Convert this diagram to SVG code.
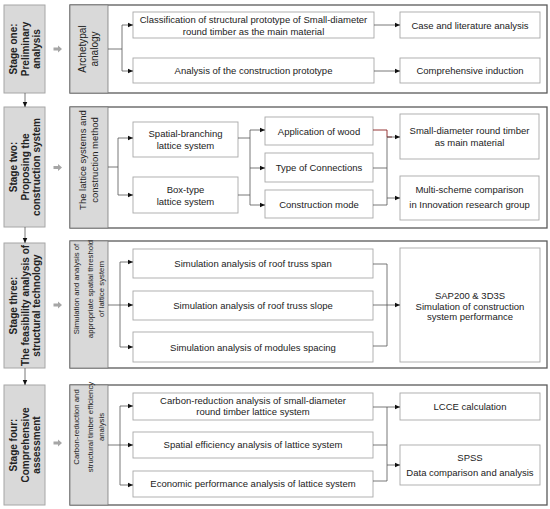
<svg xmlns="http://www.w3.org/2000/svg" width="550" height="509" viewBox="0 0 550 509">
<defs>
<style>
text{font-family:"Liberation Sans",Arial,sans-serif;font-size:9.5px;fill:#222;text-anchor:middle}
.st{font-weight:bold;font-size:10px;fill:#222}
.l1{font-size:10px}
.l3{font-size:7.8px}
.sbox{fill:#d9d9d9;stroke:#a6a6a6;stroke-width:1}
.panel{fill:#fff;stroke:#5a5a5a;stroke-width:1.3}
.lab{fill:#d9d9d9;stroke:#7a7a7a;stroke-width:0.8}
.box{fill:#fff;stroke:#a8a8a8;stroke-width:0.9}
.c{fill:none;stroke:#555;stroke-width:0.8}
.a{fill:none;stroke:#555;stroke-width:0.8}
.red{fill:none;stroke:#8b2020;stroke-width:0.9}
.barrow{fill:#a6a6a6}
</style>
<marker id="ah" markerUnits="userSpaceOnUse" markerWidth="7" markerHeight="7" refX="5.5" refY="3.5" orient="auto">
<path d="M0,1 L5.5,3.5 L0,6 z" fill="#111"/>
</marker>
<path id="ba" d="M0,-1.6 h4.5 v-2 l4,3.6 l-4,3.6 v-2 h-4.5 z"/>
</defs>

<!-- Stage boxes -->
<g id="stage1">
<rect class="sbox" x="4" y="5" width="41" height="88"/>
<g transform="translate(25,49) rotate(-90)">
<text class="st" x="0" y="-8">Stage one:</text>
<text class="st" x="0" y="3.5">Preliminary</text>
<text class="st" x="0" y="15">analysis</text>
</g>
</g>
<g id="stage2">
<rect class="sbox" x="4" y="107" width="41" height="120"/>
<g transform="translate(25,167) rotate(-90)">
<text class="st" x="0" y="-8">Stage two:</text>
<text class="st" x="0" y="3.5">Proposing the</text>
<text class="st" x="0" y="15">construction system</text>
</g>
</g>
<g id="stage3">
<rect class="sbox" x="4" y="243" width="41" height="125"/>
<g transform="translate(25,305.5) rotate(-90)">
<text class="st" x="0" y="-8">Stage three:</text>
<text class="st" x="0" y="3.5">The feasibility analysis of</text>
<text class="st" x="0" y="15">structural technology</text>
</g>
</g>
<g id="stage4">
<rect class="sbox" x="4" y="385" width="41" height="120"/>
<g transform="translate(25,445) rotate(-90)">
<text class="st" x="0" y="-8">Stage four:</text>
<text class="st" x="0" y="3.5">Comprehensive</text>
<text class="st" x="0" y="15">assessment</text>
</g>
</g>

<!-- Panels -->
<g id="panel1">
<rect class="panel" x="70" y="5" width="477" height="88"/>
<rect class="lab" x="70" y="5" width="38" height="88"/>
<g transform="translate(89,49) rotate(-90)">
<text class="l1" x="0" y="-3">Archetypal</text>
<text class="l1" x="0" y="9">analogy</text>
</g>
</g>
<g id="panel2">
<rect class="panel" x="70" y="107" width="477" height="121"/>
<rect class="lab" x="70" y="107" width="38" height="121"/>
<g transform="translate(89,160) rotate(-90)">
<text x="0" y="-3">The lattice systems and</text>
<text x="0" y="9">construction method</text>
</g>
</g>
<g id="panel3">
<rect class="panel" x="70" y="241" width="477" height="127"/>
<rect class="lab" x="70" y="241" width="38" height="127"/>
<g transform="translate(89,289) rotate(-90)">
<text class="l3" x="0" y="-10">Simulation and analysis of</text>
<text class="l3" x="0" y="3.5">appropriate spatial threshold</text>
<text class="l3" x="0" y="15">of lattice system</text>
</g>
</g>
<g id="panel4">
<rect class="panel" x="70" y="385" width="477" height="120"/>
<rect class="lab" x="70" y="385" width="38" height="120"/>
<g transform="translate(89,427) rotate(-90)">
<text class="l3" x="0" y="-10">Carbon-reduction and</text>
<text class="l3" x="0" y="3.5">structural timber efficiency</text>
<text class="l3" x="0" y="15">analysis</text>
</g>
</g>

<!-- Panel 1 nodes -->
<g id="n-classification">
<rect class="box" x="133" y="12" width="241" height="26"/>
<text x="253.5" y="22.5">Classification of structural prototype of Small-diameter</text>
<text x="253.5" y="34.5">round timber as the main material</text>
</g>
<g id="n-analysis-proto">
<rect class="box" x="133" y="58" width="241" height="25"/>
<text x="253.5" y="74">Analysis of the construction prototype</text>
</g>
<g id="n-case">
<rect class="box" x="400" y="12" width="140" height="26"/>
<text x="470" y="28.5">Case and literature analysis</text>
</g>
<g id="n-induction">
<rect class="box" x="400" y="58" width="140" height="25"/>
<text x="470" y="74">Comprehensive induction</text>
</g>

<!-- Panel 2 nodes -->
<g id="n-spatial-branching">
<rect class="box" x="133" y="122" width="105" height="35"/>
<text x="185.5" y="137">Spatial-branching</text>
<text x="185.5" y="148.5">lattice system</text>
</g>
<g id="n-box-type">
<rect class="box" x="133" y="177" width="105" height="36"/>
<text x="185.5" y="193">Box-type</text>
<text x="185.5" y="205">lattice system</text>
</g>
<g id="n-wood">
<rect class="box" x="265" y="117" width="108" height="28"/>
<text x="319" y="134.5">Application of wood</text>
</g>
<g id="n-connections">
<rect class="box" x="265" y="153" width="108" height="29"/>
<text x="319" y="171">Type of Connections</text>
</g>
<g id="n-construction-mode">
<rect class="box" x="265" y="190" width="108" height="28"/>
<text x="319" y="207.5">Construction mode</text>
</g>
<g id="n-small-diameter">
<rect class="box" x="400" y="114" width="139" height="45"/>
<text x="469.5" y="134">Small-diameter round timber</text>
<text x="469.5" y="146">as main material</text>
</g>
<g id="n-multi-scheme">
<rect class="box" x="400" y="176" width="139" height="44"/>
<text x="469.5" y="193">Multi-scheme comparison</text>
<text x="469.5" y="208">in Innovation research group</text>
</g>

<!-- Panel 3 nodes -->
<g id="n-span">
<rect class="box" x="133" y="249" width="240" height="29"/>
<text x="253" y="267">Simulation analysis of roof truss span</text>
</g>
<g id="n-slope">
<rect class="box" x="133" y="291" width="240" height="29"/>
<text x="253" y="309">Simulation analysis of roof truss slope</text>
</g>
<g id="n-spacing">
<rect class="box" x="133" y="332" width="240" height="30"/>
<text x="253" y="350.5">Simulation analysis of modules spacing</text>
</g>
<g id="n-sap">
<rect class="box" x="400" y="248" width="140" height="114"/>
<text x="470" y="299">SAP200 &amp; 3D3S</text>
<text x="470" y="309.5">Simulation of construction</text>
<text x="470" y="320">system performance</text>
</g>

<!-- Panel 4 nodes -->
<g id="n-carbon">
<rect class="box" x="133" y="393" width="240" height="27"/>
<text x="253" y="403.5">Carbon-reduction analysis of small-diameter</text>
<text x="253" y="415">round timber lattice system</text>
</g>
<g id="n-spatial-eff">
<rect class="box" x="133" y="432" width="240" height="26"/>
<text x="253" y="448">Spatial efficiency analysis of lattice system</text>
</g>
<g id="n-economic">
<rect class="box" x="133" y="471" width="240" height="26"/>
<text x="253" y="487">Economic performance analysis of lattice system</text>
</g>
<g id="n-lcce">
<rect class="box" x="400" y="393" width="140" height="27"/>
<text x="470" y="410">LCCE calculation</text>
</g>
<g id="n-spss">
<rect class="box" x="400" y="445" width="140" height="40"/>
<text x="470" y="461">SPSS</text>
<text x="470" y="476">Data comparison and analysis</text>
</g>

<!-- Connectors -->
<g id="connectors">
<line class="a" marker-end="url(#ah)" x1="25" y1="93" x2="25" y2="107"/>
<line class="a" marker-end="url(#ah)" x1="25" y1="227" x2="25" y2="243"/>
<line class="a" marker-end="url(#ah)" x1="25" y1="368" x2="25" y2="385"/>
<use href="#ba" class="barrow" x="53.5" y="49"/>
<use href="#ba" class="barrow" x="53.5" y="167.5"/>
<use href="#ba" class="barrow" x="53.5" y="305"/>
<use href="#ba" class="barrow" x="53.5" y="443"/>
<path class="c" d="M108,49 H122 M122,25 V71"/>
<line class="a" marker-end="url(#ah)" x1="122" y1="25" x2="133" y2="25"/>
<line class="a" marker-end="url(#ah)" x1="122" y1="71" x2="133" y2="71"/>
<line class="a" marker-end="url(#ah)" x1="374" y1="25" x2="400" y2="25"/>
<line class="a" marker-end="url(#ah)" x1="374" y1="71" x2="400" y2="71"/>
<path class="c" d="M108,167 H118 M118,138 V195"/>
<line class="a" marker-end="url(#ah)" x1="118" y1="138" x2="133" y2="138"/>
<line class="a" marker-end="url(#ah)" x1="118" y1="195" x2="133" y2="195"/>
<path class="c" d="M238,138 H250 M238,195 H250 M250,130 V205"/>
<line class="a" marker-end="url(#ah)" x1="250" y1="130" x2="265" y2="130"/>
<line class="a" marker-end="url(#ah)" x1="250" y1="168" x2="265" y2="168"/>
<line class="a" marker-end="url(#ah)" x1="250" y1="205" x2="265" y2="205"/>
<path class="c" d="M373,168 H387 M373,205 H387 M387,137 V205"/>
<path class="red" d="M373,130 H387 V137 H392"/>
<line class="a" marker-end="url(#ah)" x1="387" y1="137" x2="400" y2="137"/>
<line class="a" marker-end="url(#ah)" x1="387" y1="198" x2="400" y2="198"/>
<path class="c" d="M108,305 H120 M120,262 V347"/>
<line class="a" marker-end="url(#ah)" x1="120" y1="262" x2="133" y2="262"/>
<line class="a" marker-end="url(#ah)" x1="120" y1="305" x2="133" y2="305"/>
<line class="a" marker-end="url(#ah)" x1="120" y1="347" x2="133" y2="347"/>
<path class="c" d="M373,264 H387 M373,346 H387 M387,264 V346"/>
<line class="a" marker-end="url(#ah)" x1="373" y1="305" x2="400" y2="305"/>
<path class="c" d="M108,445 H120 M120,406 V485"/>
<line class="a" marker-end="url(#ah)" x1="120" y1="406" x2="133" y2="406"/>
<line class="a" marker-end="url(#ah)" x1="120" y1="445" x2="133" y2="445"/>
<line class="a" marker-end="url(#ah)" x1="120" y1="485" x2="133" y2="485"/>
<path class="c" d="M373,407 H387 M373,445 H387 M373,481 H387 M387,407 V481"/>
<line class="a" marker-end="url(#ah)" x1="387" y1="407" x2="400" y2="407"/>
<line class="a" marker-end="url(#ah)" x1="387" y1="465" x2="400" y2="465"/>
</g>
</svg>
